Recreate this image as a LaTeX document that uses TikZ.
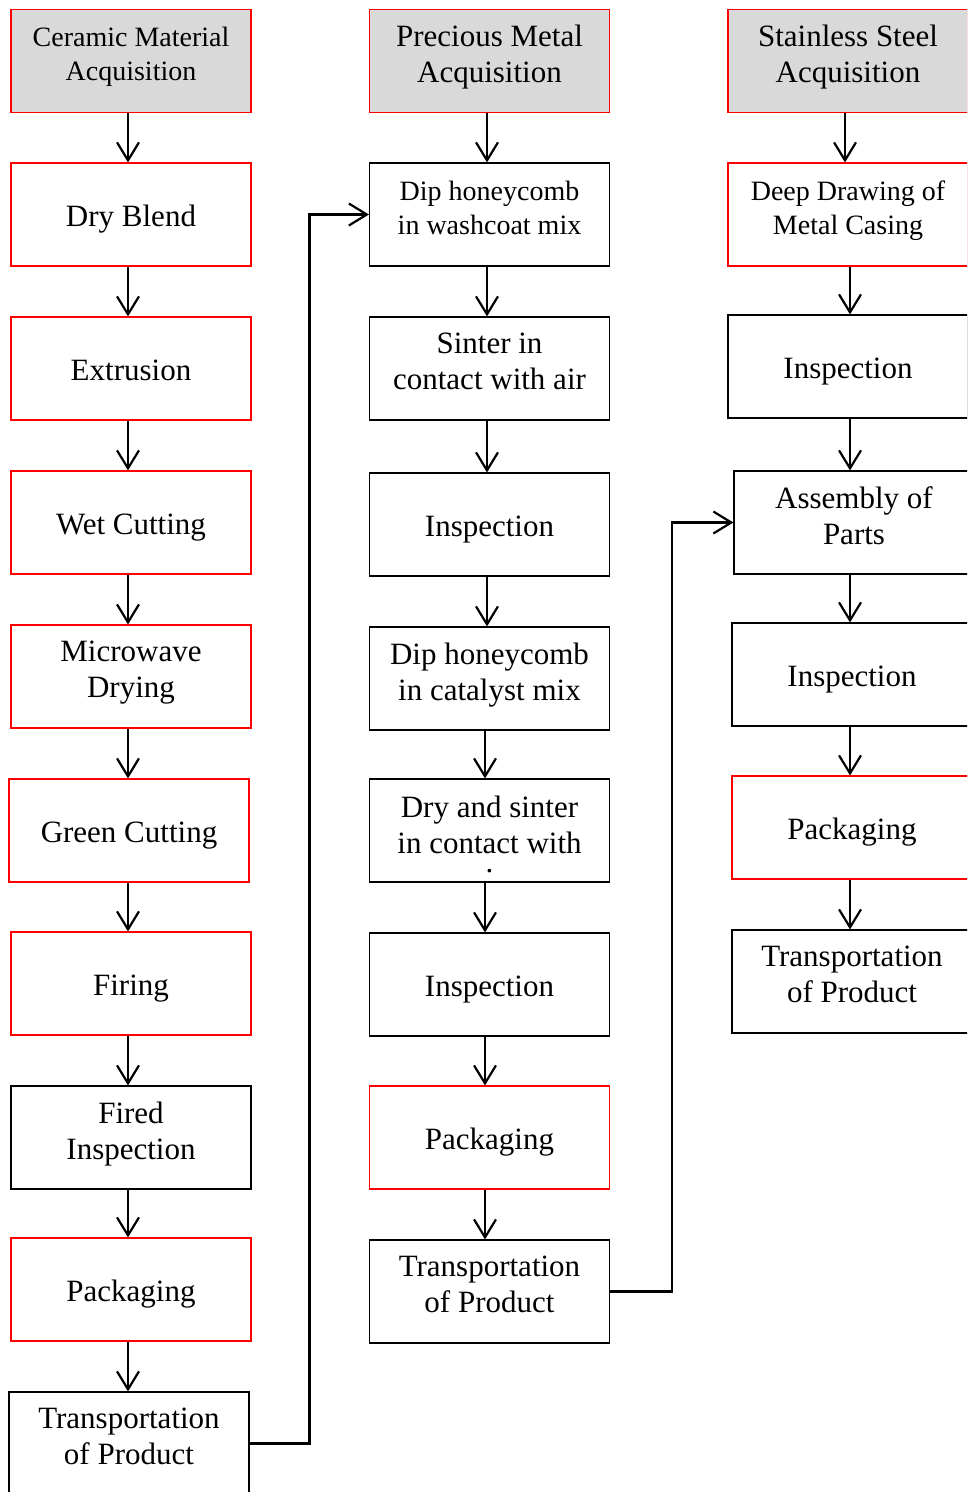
\documentclass[tikz,border=0pt]{standalone}
\usepackage{fontspec}
\setmainfont{Liberation Serif}
\usetikzlibrary{arrows.meta}

\begin{document}
\begin{tikzpicture}[x=1pt, y=-1pt,
    every node/.style={rectangle, draw=black, line width=1.1pt, minimum width=240pt, minimum height=103pt, align=center, inner sep=0pt, font=\fontsize{31}{36}\selectfont},
    redbox/.style={draw=red},
    headbox/.style={draw=red, fill=gray!30},
    smalltext/.style={font=\fontsize{28}{34}\selectfont},
    oneline/.style={text height=24pt, text depth=0pt},
    twoline/.style={text depth=14pt},
    arr/.style={line width=2.2pt, -{Straight Barb[length=18pt, width=22pt]}}]
    \useasboundingbox (0,0) rectangle (967,1492);
    \clip (0,0) rectangle (967,1492);

    % ceramic column
    \node[headbox, smalltext, twoline] (C0) at (131,61) {Ceramic Material\\Acquisition};
    \node[redbox, oneline] (C1) at (131,214.5) {Dry Blend};
    \node[redbox, oneline] (C2) at (131,368.5) {Extrusion};
    \node[redbox, oneline] (C3) at (131,522.5) {Wet Cutting};
    \node[redbox, twoline] (C4) at (131,676.5) {Microwave\\Drying};
    \node[redbox, oneline] (C5) at (129,830.5) {Green Cutting};
    \node[redbox, oneline] (C6) at (131,983.5) {Firing};
    \node[twoline] (C7) at (131,1137.5) {Fired\\Inspection};
    \node[redbox, oneline] (C8) at (131,1289.5) {Packaging};
    \node[twoline] (C9) at (129,1443.5) {Transportation\\of Product};

    % precious metal column
    \node[headbox, twoline] (P0) at (489.5,61) {Precious Metal\\Acquisition};
    \node[smalltext, twoline] (P1) at (489.5,214.5) {Dip honeycomb\\in washcoat mix};
    \node[twoline] (P2) at (489.5,368.5) {Sinter in\\contact with air};
    \node[oneline] (P3) at (489.5,524.5) {Inspection};
    \node[twoline] (P4) at (489.5,678.5) {Dip honeycomb\\in catalyst mix};
    \node[text height=84pt, text depth=0pt] (P5) at (489.5,830.5) {Dry and sinter\\in contact with\\[-17pt].};
    \node[oneline] (P6) at (489.5,984.5) {Inspection};
    \node[redbox, oneline] (P7) at (489.5,1137.5) {Packaging};
    \node[twoline] (P8) at (489.5,1291.5) {Transportation\\of Product};

    % stainless steel column
    \node[headbox, twoline] (S0) at (848,61) {Stainless Steel\\Acquisition};
    \node[redbox, smalltext, twoline] (S1) at (848,214.5) {Deep Drawing of\\Metal Casing};
    \node[oneline] (S2) at (848,366.5) {Inspection};
    \node[twoline] (S3) at (854,522.5) {Assembly of\\Parts};
    \node[oneline] (S4) at (852,674.5) {Inspection};
    \node[redbox, oneline] (S5) at (852,827.5) {Packaging};
    \node[twoline] (S6) at (852,981.5) {Transportation\\of Product};

    \foreach \a/\b/\dx in {C0/C1/-3, C1/C2/-3, C2/C3/-3, C3/C4/-3, C4/C5/-3, C5/C6/-1, C6/C7/-3, C7/C8/-3, C8/C9/-3,
                           P0/P1/-2.5, P1/P2/-2.5, P2/P3/-2.5, P3/P4/-2.5, P4/P5/-4.5, P5/P6/-4.5, P6/P7/-4.5, P7/P8/-4.5,
                           S0/S1/-3, S1/S2/2, S2/S3/2, S3/S4/-4, S4/S5/-2, S5/S6/-2}
        \draw[arr] ([xshift=\dx pt]\a.south) -- ([xshift=\dx pt]\a.south |- \b.north);

    \draw[arr] (C9.east) -- ++(60,0) |- (P1.west);
    \draw[arr] (P8.east) -- ++(62,0) |- (S3.west);
\end{tikzpicture}
\end{document}
